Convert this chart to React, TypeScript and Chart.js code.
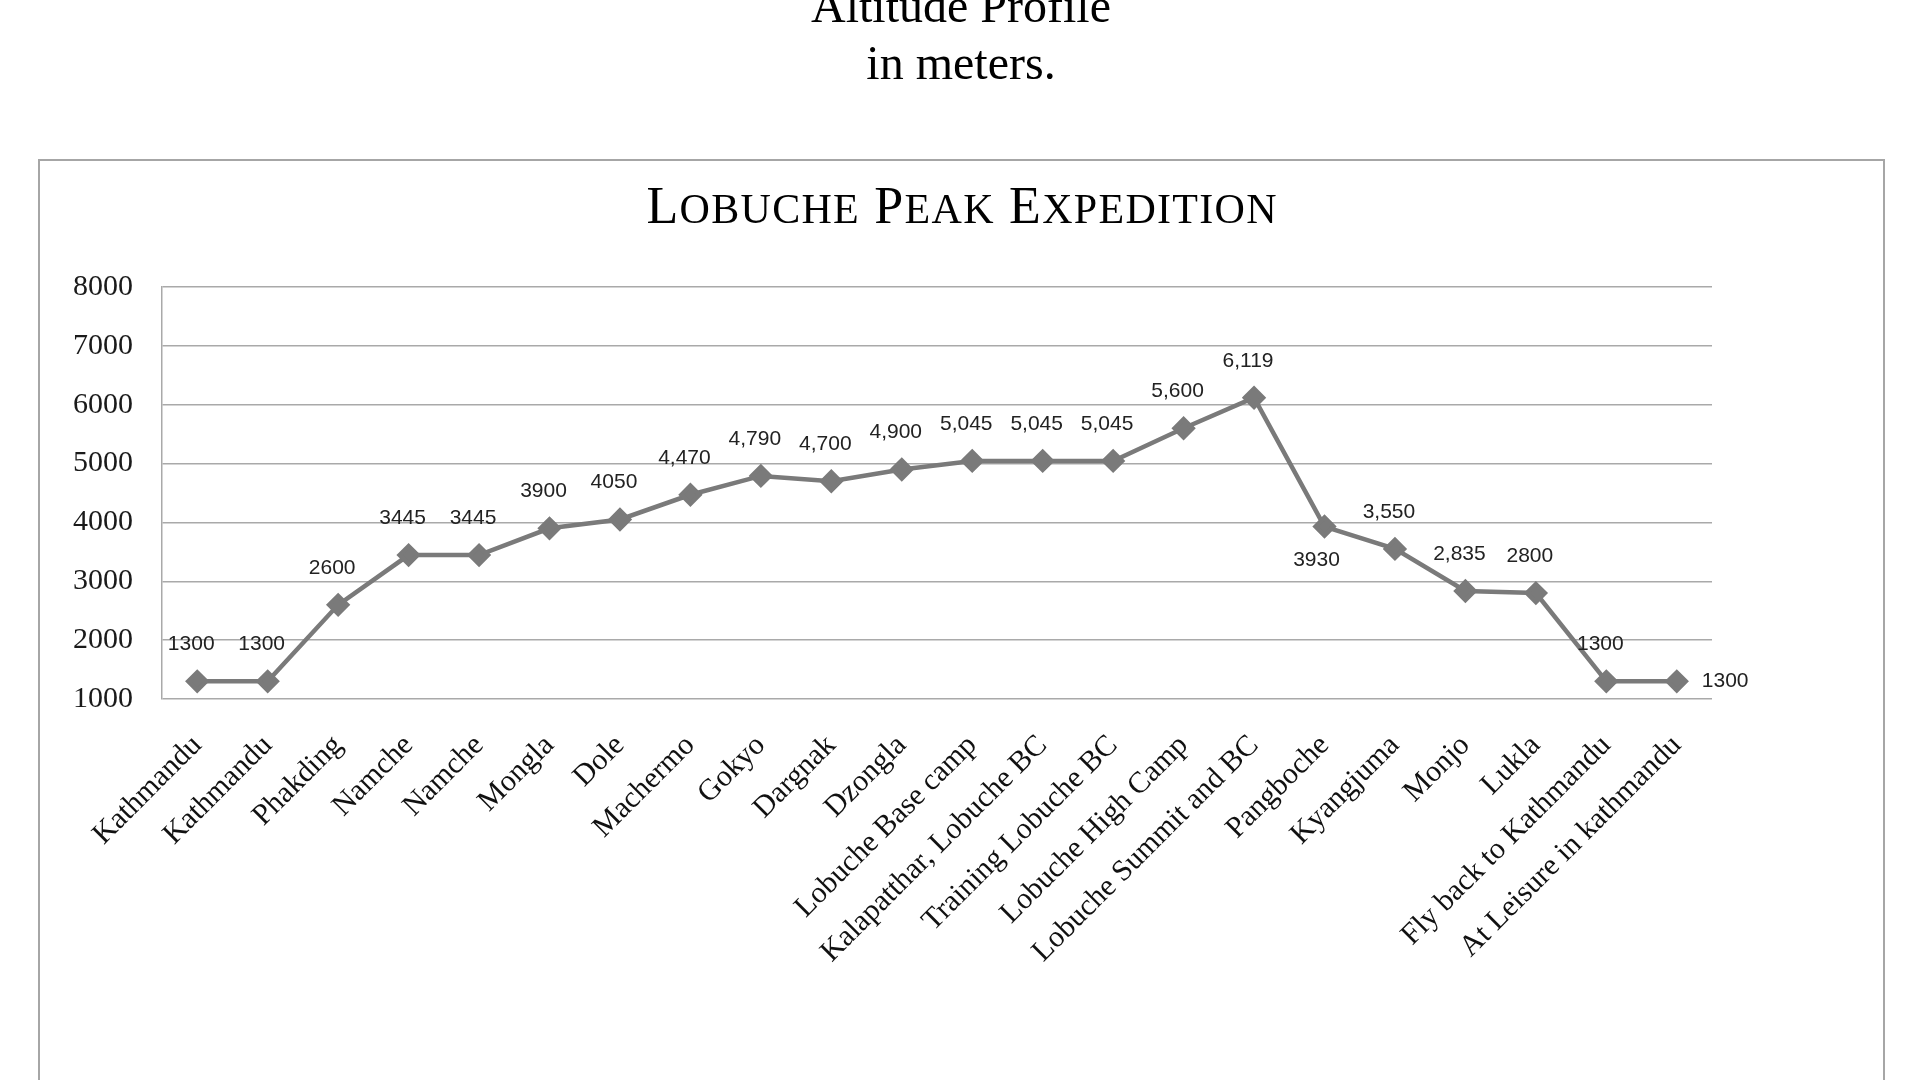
import React, { useEffect, useRef } from 'react';
import { Chart, registerables } from 'chart.js';

Chart.register(...registerables);

const stops = [
  'Kathmandu', 'Kathmandu', 'Phakding', 'Namche', 'Namche', 'Mongla', 'Dole', 'Machermo',
  'Gokyo', 'Dargnak', 'Dzongla', 'Lobuche Base camp', 'Kalapatthar, Lobuche BC',
  'Training Lobuche BC', 'Lobuche High Camp', 'Lobuche Summit and BC', 'Pangboche',
  'Kyangjuma', 'Monjo', 'Lukla', 'Fly back to Kathmandu', 'At Leisure in kathmandu',
];

const altitudes = [
  1300, 1300, 2600, 3445, 3445, 3900, 4050, 4470, 4790, 4700, 4900,
  5045, 5045, 5045, 5600, 6119, 3930, 3550, 2835, 2800, 1300, 1300,
];

// labels as printed on the original chart (mixed formatting)
const altitudeLabels = [
  '1300', '1300', '2600', '3445', '3445', '3900', '4050', '4,470', '4,790', '4,700', '4,900',
  '5,045', '5,045', '5,045', '5,600', '6,119', '3930', '3,550', '2,835', '2800', '1300', '1300',
];

const yTicks = [1000, 2000, 3000, 4000, 5000, 6000, 7000, 8000];

const chartTitle = 'Lobuche Peak Expedition';

const LINE_GREY = '#7a7a7a';
const GRID_GREY = '#a9a9a9';

// title in small caps, drawn letter by letter
const smallCapsTitle = {
  id: 'smallCapsTitle',
  afterDraw(chart: any) {
    const ctx = chart.ctx;
    const big = 52;
    const small = Math.round(big * 0.8);
    const spacing = 1.3;
    const baseline = 62;
    const parts: { ch: string; size: number }[] = [];
    chartTitle.split('').forEach((ch) => {
      const upper = ch.toUpperCase();
      parts.push({ ch: upper, size: ch === upper ? big : small });
    });
    ctx.save();
    let total = 0;
    parts.forEach((p) => {
      ctx.font = `${p.size}px "Liberation Serif"`;
      total += ctx.measureText(p.ch).width + spacing;
    });
    total -= spacing;
    let x = chart.width / 2 - total / 2;
    ctx.fillStyle = '#000';
    ctx.textAlign = 'left';
    ctx.textBaseline = 'alphabetic';
    parts.forEach((p) => {
      ctx.font = `${p.size}px "Liberation Serif"`;
      ctx.fillText(p.ch, x, baseline);
      x += ctx.measureText(p.ch).width + spacing;
    });
    ctx.restore();
  },
};

// draws the value next to each point
const valueLabels = {
  id: 'valueLabels',
  afterDatasetsDraw(chart: any) {
    const ctx = chart.ctx;
    const meta = chart.getDatasetMeta(0);
    const last = meta.data.length - 1;
    const peak = altitudes.indexOf(Math.max(...altitudes));
    ctx.save();
    ctx.font = '21px "Liberation Sans"';
    ctx.fillStyle = '#222';
    ctx.textBaseline = 'middle';
    meta.data.forEach((pt: any, i: number) => {
      const text = altitudeLabels[i];
      if (i === last) {
        ctx.textAlign = 'left';
        ctx.fillText(text, pt.x + 25, pt.y);
      } else if (i === peak + 1) {
        // first point after the summit: label below
        ctx.textAlign = 'center';
        ctx.fillText(text, pt.x - 8, pt.y + 34);
      } else {
        ctx.textAlign = 'center';
        ctx.fillText(text, pt.x - 6, pt.y - 37);
      }
    });
    ctx.restore();
  },
};

const AltitudeChart: React.FC = () => {
  const canvasRef = useRef<HTMLCanvasElement>(null);
  const chartInstance = useRef<Chart | null>(null);

  useEffect(() => {
    if (!canvasRef.current) return;
    if (chartInstance.current) chartInstance.current.destroy();

    chartInstance.current = new Chart(canvasRef.current, {
      type: 'line',
      data: {
        labels: stops,
        datasets: [{
          data: altitudes,
          borderColor: LINE_GREY,
          backgroundColor: LINE_GREY,
          borderWidth: 4.5,
          pointStyle: 'rectRot',
          pointRadius: 9,
          pointBackgroundColor: LINE_GREY,
          pointBorderColor: LINE_GREY,
          tension: 0,
        }],
      },
      options: {
        responsive: true,
        maintainAspectRatio: false,
        animation: false,
        layout: { padding: { left: 0, right: 171, top: 126, bottom: 0 } },
        plugins: {
          legend: { display: false },
          tooltip: { enabled: false },
          title: { display: false },
        },
        scales: {
          x: {
            offset: true,
            grid: { display: false },
            border: { display: false },
            afterFit: (scale: any) => { scale.height = 380; },
            ticks: {
              autoSkip: false,
              maxRotation: 45,
              minRotation: 45,
              padding: 21,
              color: '#111',
              font: { family: '"Liberation Serif"', size: 30 },
            },
          },
          y: {
            min: 1000,
            max: 8000,
            afterFit: (scale: any) => { scale.width = 122; },
            afterBuildTicks: (scale: any) => { scale.ticks = yTicks.map(v => ({ value: v })); },
            grid: { color: GRID_GREY, lineWidth: 1.5, drawTicks: false },
            border: { display: true, color: GRID_GREY, width: 1.5 },
            ticks: {
              padding: 29,
              color: '#1a1a1a',
              font: { family: '"Liberation Serif"', size: 30 },
              callback: (v: any) => String(v),
            },
          },
        },
      },
      plugins: [valueLabels, smallCapsTitle],
    });

    return () => {
      if (chartInstance.current) {
        chartInstance.current.destroy();
        chartInstance.current = null;
      }
    };
  }, []);

  return (
    <div style={{ position: 'relative', width: 1843, height: 918 }}>
      <canvas ref={canvasRef}></canvas>
    </div>
  );
};

export default function App() {
  return (
    <div>
      <div
        style={{
          position: 'fixed',
          top: -23,
          left: 0,
          width: 1922,
          textAlign: 'center',
          fontFamily: '"Liberation Serif", serif',
          fontSize: 48,
          lineHeight: '57px',
          color: '#000',
        }}
      >
        <div>Altitude Profile</div>
        <div>in meters.</div>
      </div>
      <div
        style={{
          position: 'fixed',
          left: 38,
          top: 159,
          width: 1843,
          height: 1000,
          border: '2px solid #a6a6a6',
          background: '#fff',
        }}
      >
        <AltitudeChart />
      </div>
    </div>
  );
}
